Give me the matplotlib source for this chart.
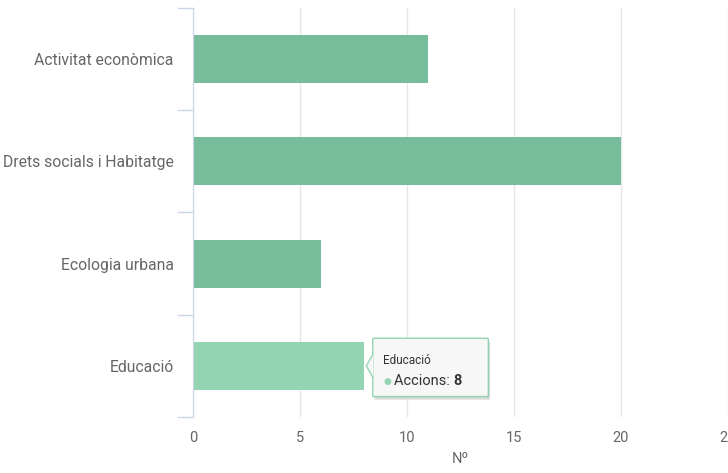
import numpy as np
import matplotlib
matplotlib.use('Agg')
import matplotlib.pyplot as plt
from matplotlib.patches import FancyBboxPatch, Polygon

categories = ['Activitat econòmica', 'Drets socials i Habitatge', 'Ecologia urbana', 'Educació']
accions = [11, 20, 6, 8]
xticks = [0, 5, 10, 15, 20, 25]
hover = 3  # Educació is highlighted

plt.rcParams['font.family'] = ['Roboto', 'DejaVu Sans']

fig = plt.figure(figsize=(7.28, 4.73), dpi=100)
ax = fig.add_axes([193/728, 1 - 417/473, 535/728, 409/473])

colors = ['#77bc9b'] * len(categories)
colors[hover] = '#93d5b2'
y = np.arange(len(categories))
ax.barh(y, accions, height=0.47, color=colors, zorder=3)

ax.set_ylim(len(categories) - 0.5, -0.5)
ax.set_xlim(0, 25)
ax.set_xticks(xticks)
ax.set_xticklabels([str(t) for t in xticks], color='#666666', fontsize=10.5)
ax.tick_params(axis='x', length=0, pad=10)
ax.grid(axis='x', color='#e6e6e6', lw=1, zorder=0)

# category labels, right-aligned against the axis (first letters clipped by the figure edge)
ax.set_yticks(y)
ax.set_yticklabels(categories, color='#666666', fontsize=11.3)
ax.tick_params(axis='y', length=0, pad=14)
for b in np.arange(len(categories) + 1) - 0.5:
    ax.plot([-0.7, 0], [b, b], color='#ccd6eb', lw=1, clip_on=False, zorder=4)

for s in ['top', 'right', 'bottom']:
    ax.spines[s].set_visible(False)
ax.spines['left'].set_color('#ccd6eb')
ax.spines['left'].set_zorder(5)

ax.set_xlabel('Nº', color='#666666', fontsize=10.5, labelpad=5)

# tooltip for the hovered bar
tx0, tx1 = 8.4, 13.8
ty0, ty1 = hover - 0.27, hover + 0.3
shadow = FancyBboxPatch((tx0 + 0.08, ty0 + 0.03), tx1 - tx0, ty1 - ty0,
                        boxstyle='round,pad=0,rounding_size=0.1', fc='#d8d8d8',
                        ec='none', zorder=6, clip_on=False, mutation_aspect=0.05)
ax.add_patch(shadow)
box = FancyBboxPatch((tx0, ty0), tx1 - tx0, ty1 - ty0,
                     boxstyle='round,pad=0,rounding_size=0.1', fc='#f7f7f7',
                     ec='#93d5b2', lw=1, zorder=7, clip_on=False, mutation_aspect=0.05)
ax.add_patch(box)
arrow = Polygon([[tx0 + 0.02, hover - 0.12], [accions[hover] + 0.1, hover],
                 [tx0 + 0.02, hover + 0.12]], closed=False, fc='#f7f7f7',
                ec='#93d5b2', lw=1, zorder=8, clip_on=False)
ax.add_patch(arrow)
ax.text(tx0 + 0.5, hover - 0.05, 'Educació', fontsize=8.5, color='#333333',
        va='center', zorder=9)
ax.text(tx0 + 0.5, hover + 0.15, '●', fontsize=6.5, color='#93d5b2', va='center', zorder=9)
lab = ax.text(tx0 + 0.98, hover + 0.15, 'Accions: ', fontsize=10.5, color='#333333',
              va='center', zorder=9)
ax.annotate(str(accions[hover]), xy=(1, 0.5), xycoords=lab, va='center',
            fontsize=10.5, color='#333333', fontweight='bold', zorder=9)

fig.savefig('out.png', dpi=100)
